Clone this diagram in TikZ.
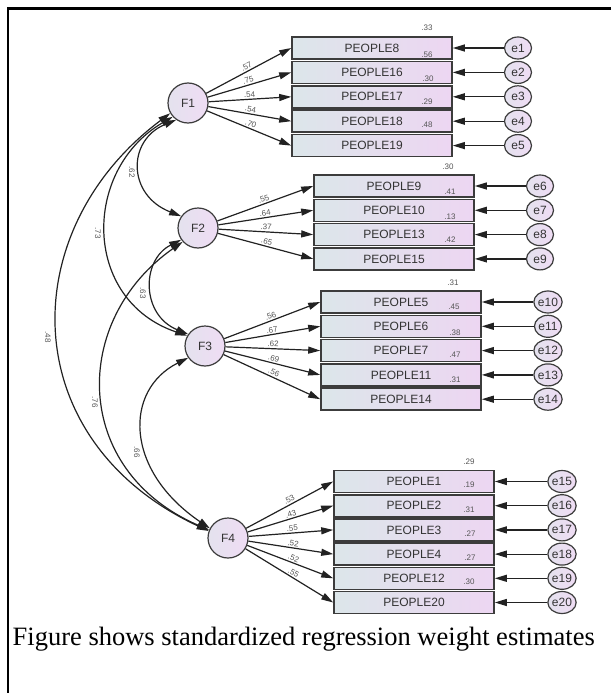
\documentclass[tikz,border=0pt]{standalone}
\usepackage{fontspec}
\setmainfont{Liberation Serif}
\setsansfont{Liberation Sans}
\usetikzlibrary{arrows.meta,shapes.geometric}
\definecolor{boxL}{HTML}{DCE6EA}
\definecolor{boxR}{HTML}{EDD6F2}
\definecolor{circL}{HTML}{E4E2EE}
\definecolor{circR}{HTML}{EFDCF4}
\definecolor{edgec}{HTML}{3C3C3C}
\definecolor{numgray}{HTML}{555555}
\definecolor{arrc}{HTML}{222222}
\begin{document}
\begin{tikzpicture}[x=1pt,y=-1pt,
  obs/.style={draw=edgec, line width=1.6pt, minimum width=160pt, minimum height=22pt, inner sep=0pt,
    left color=boxL, right color=boxR, font=\sffamily\fontsize{12}{12}\selectfont, text=black!80},
  lat/.style={circle, draw=edgec, line width=1.2pt, minimum size=40pt, inner sep=0pt,
    left color=circL, right color=circR, font=\sffamily\fontsize{12}{12}\selectfont, text=black!80},
  err/.style={ellipse, draw=edgec, line width=1.2pt, minimum width=27pt, minimum height=22pt, inner sep=0pt,
    left color=circL, right color=circR, font=\sffamily\fontsize{12}{12}\selectfont, text=black!80},
  arr/.style={-{Triangle[length=12pt,width=7pt]}, line width=1.2pt, draw=arrc},
  cov/.style={{Triangle[length=12pt,width=7pt]}-{Triangle[length=12pt,width=7pt]}, line width=1.2pt, draw=arrc},
  lbl/.style={font=\sffamily\fontsize{8}{8}\selectfont, text=numgray, inner sep=0.3pt},
  caption/.style={font=\rmfamily\fontsize{26.5}{30}\selectfont, inner sep=0pt, anchor=base west}
]
\useasboundingbox (0,0) rectangle (611,693);
\draw[line width=2.6pt] (611,8.5) -- (8,8.5) -- (8,693);

% latent factors
\node[lat] (F1) at (188,103) {F1};
\node[lat] (F2) at (198,228) {F2};
\node[lat] (F3) at (205,346) {F3};
\node[lat] (F4) at (228,538) {F4};

% block 1
\foreach \nm/\yy/\en/\ld in {PEOPLE8/48/1/.57, PEOPLE16/72.4/2/.75, PEOPLE17/96.8/3/.54, PEOPLE18/121.2/4/.54, PEOPLE19/145.6/5/.70}{
  \node[obs] (\nm) at (372,\yy) {\nm};
  \node[err] (e\en) at (518,\yy) {e\en};
  \draw[arr] (e\en) -- (\nm.east);
  \draw[arr] (F1) -- node[lbl, pos=0.5, above=1pt, sloped] {\ld} (\nm.west);
}
% block 2
\foreach \nm/\yy/\en/\ld in {PEOPLE9/186/6/.55, PEOPLE10/210.3/7/.64, PEOPLE13/234.6/8/.37, PEOPLE15/258.9/9/.65}{
  \node[obs] (\nm) at (394,\yy) {\nm};
  \node[err] (e\en) at (540,\yy) {e\en};
  \draw[arr] (e\en) -- (\nm.east);
  \draw[arr] (F2) -- node[lbl, pos=0.5, above=1pt, sloped] {\ld} (\nm.west);
}
% block 3
\foreach \nm/\yy/\en/\ld in {PEOPLE5/302/10/.56, PEOPLE6/326.3/11/.67, PEOPLE7/350.6/12/.62, PEOPLE11/374.9/13/.69, PEOPLE14/399.2/14/.56}{
  \node[obs] (\nm) at (401,\yy) {\nm};
  \node[err] (e\en) at (548,\yy) {e\en};
  \draw[arr] (e\en) -- (\nm.east);
  \draw[arr] (F3) -- node[lbl, pos=0.5, above=1pt, sloped] {\ld} (\nm.west);
}
% block 4
\foreach \nm/\yy/\en/\ld in {PEOPLE1/481.5/15/.53, PEOPLE2/505.7/16/.43, PEOPLE3/529.9/17/.55, PEOPLE4/554.1/18/.52, PEOPLE12/578.3/19/.52, PEOPLE20/602.5/20/.55}{
  \node[obs] (\nm) at (414,\yy) {\nm};
  \node[err] (e\en) at (562,\yy) {e\en};
  \draw[arr] (e\en) -- (\nm.east);
  \draw[arr] (F4) -- node[lbl, pos=0.52, above=1pt, sloped] {\ld} (\nm.west);
}

% squared multiple correlations
\foreach \v/\xx/\yy in {.33/427/28, .56/427/55, .30/428/79, .29/427/102, .48/427/125, .30/448/167,
  .41/450/192, .13/450/217, .42/450/240, .31/453/283,
  .45/454/307, .38/455/333, .47/455/355, .31/455/380,
  .29/469/462, .19/469/485, .31/469/510, .27/470/534, .27/470/558, .30/469/582}{
  \node[lbl] at (\xx,\yy) {\v};
}

% covariances
\draw[cov] (F1.235) .. controls (127,140) and (127,195) .. (F2.145);
\draw[cov] (F1.222) .. controls (82,170) and (82,300) .. (F3.150);
\draw[cov] (F1.210) .. controls (14,230) and (14,440) .. (F4.160);
\draw[cov] (F2.215) .. controls (141,260) and (141,315) .. (F3.145);
\draw[cov] (F2.222) .. controls (71,320) and (71,470) .. (F4.157);
\draw[cov] (F3.215) .. controls (124,390) and (124,470) .. (F4.152);

\node[lbl, rotate=-90] (c12) at (132,172) {.62};
\node[lbl, rotate=-90] (c13) at (98,233) {.73};
\node[lbl, rotate=-90] (c14) at (48,337) {.48};
\node[lbl, rotate=-90] (c23) at (143,293) {.63};
\node[lbl, rotate=-90] (c24) at (95,402) {.76};
\node[lbl, rotate=-90] (c34) at (137,452) {.66};

\node[caption] (cap) at (12.5,645) {Figure shows standardized regression weight estimates};
\end{tikzpicture}
\end{document}
